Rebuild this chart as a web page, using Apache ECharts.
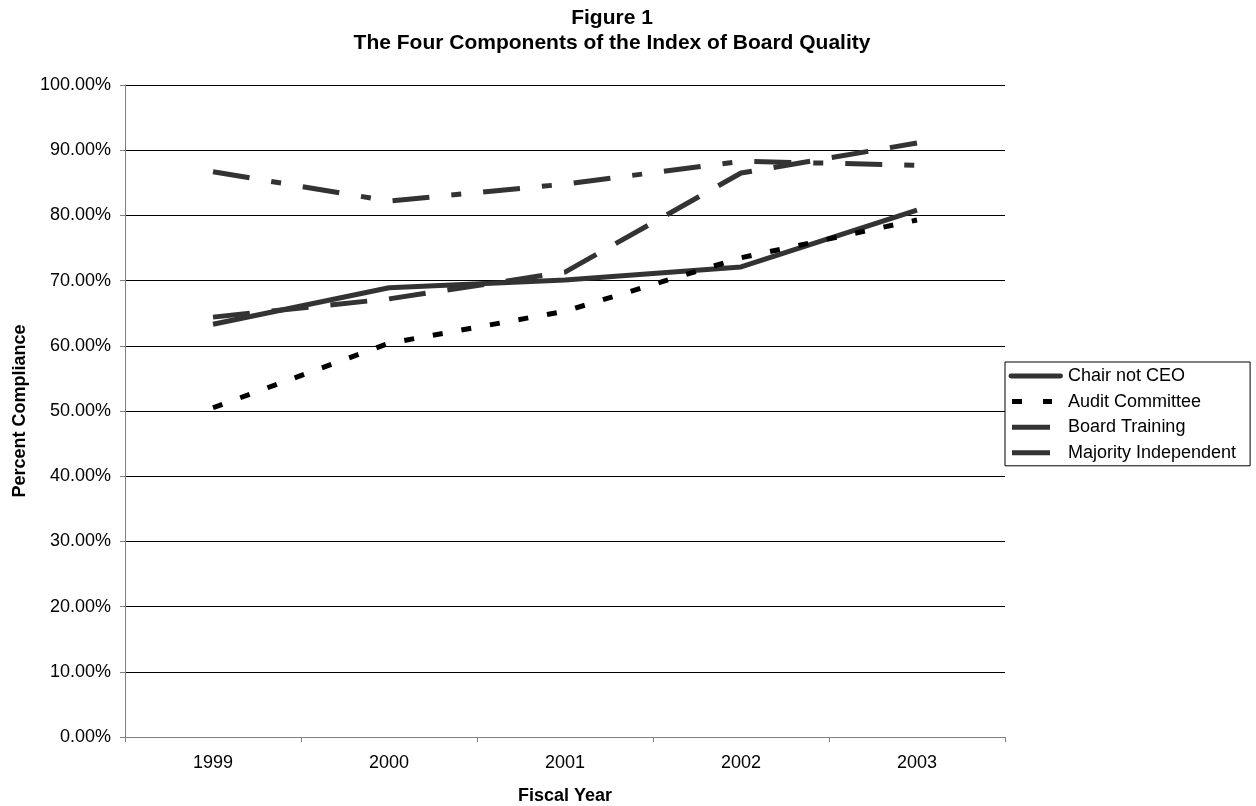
<!DOCTYPE html>
<html><head><meta charset="utf-8">
<script src="https://cdn.jsdelivr.net/npm/echarts@6/dist/echarts.min.js"></script>
<style>html,body{margin:0;padding:0;background:#fff}#c{width:1256px;height:806px}</style>
</head><body><div id="c"></div>
<script>
const years = ['1999', '2000', '2001', '2002', '2003'];
const chairNotCEO = [0.633, 0.689, 0.701, 0.721, 0.808];
const auditCommittee = [0.505, 0.604, 0.653, 0.735, 0.793];
const boardTraining = [0.644, 0.672, 0.713, 0.865, 0.911];
const majorityIndependent = [0.867, 0.822, 0.848, 0.883, 0.877];
const seriesNames = ['Chair not CEO', 'Audit Committee', 'Board Training', 'Majority Independent'];

const font = 'Liberation Sans, Arial, sans-serif';
const chart = echarts.init(document.getElementById('c'), null, {renderer: 'canvas'});
function mk(name, data, color, type) {
  return {name, type: 'line', data, symbol: 'none', smooth: false,
    lineStyle: {color, width: 5, type, cap: 'butt'}, itemStyle: {color}};
}
const iconChair = 'path://M0,0M55,6M3,0.5h50a2.5,2.5 0 0 1 0,5h-50a2.5,2.5 0 0 1 0,-5z';
const iconAudit = 'path://M0,0M55,6M4,0.5h10v5h-10zM35,0.5h9v5h-9z';
const iconBar = 'path://M0,0M55,6M4,0.5h38v5h-38z';
chart.setOption({
  animation: false,
  title: {text: 'Figure 1\nThe Four Components of the Index of Board Quality', left: 607, top: 1, textAlign: 'center',
    textStyle: {fontFamily: font, fontWeight: 'bold', fontSize: 21, color: '#000', lineHeight: 25}},
  grid: {left: 125, right: 251, top: 85, bottom: 69, containLabel: false, outerBoundsMode: 'none'},
  legend: {orient: 'vertical', left: 1005, top: 362, itemWidth: 55, itemHeight: 6, itemGap: 7.6,
    padding: [5, 14, 4, 3], borderColor: '#000', borderWidth: 1, backgroundColor: '#fff',
    itemStyle: {borderWidth: 0},
    textStyle: {fontFamily: font, fontSize: 18, color: '#000'},
    data: [
      {name: seriesNames[0], icon: iconChair},
      {name: seriesNames[1], icon: iconAudit},
      {name: seriesNames[2], icon: iconBar},
      {name: seriesNames[3], icon: iconBar}
    ]},
  xAxis: {type: 'category', data: years, boundaryGap: true, name: 'Fiscal Year', nameLocation: 'middle', nameGap: 50,
    nameTextStyle: {fontFamily: font, fontWeight: 'bold', fontSize: 18, color: '#000'},
    axisLine: {lineStyle: {color: '#808080', width: 1}}, axisTick: {show: true, length: 5, lineStyle: {color: '#808080'}},
    axisLabel: {fontFamily: font, fontSize: 18, color: '#000', margin: 17}},
  yAxis: {type: 'value', min: 0, max: 1, interval: 0.1, name: 'Percent Compliance', nameLocation: 'middle', nameRotate: 90, nameGap: 90,
    nameTextStyle: {fontFamily: font, fontWeight: 'bold', fontSize: 18, color: '#000'},
    axisLine: {show: true, lineStyle: {color: '#808080', width: 1}}, axisTick: {show: true, length: 5, lineStyle: {color: '#808080'}},
    axisLabel: {fontFamily: font, fontSize: 18, color: '#000', margin: 14, formatter: v => (v * 100).toFixed(2) + '%'},
    splitLine: {show: true, lineStyle: {color: '#000', width: 1}}},
  series: [
    mk(seriesNames[0], chairNotCEO, '#333333', 'solid'),
    mk(seriesNames[1], auditCommittee, '#000000', [10, 19]),
    mk(seriesNames[2], boardTraining, '#333333', [37, 22]),
    mk(seriesNames[3], majorityIndependent, '#333333', [37, 22, 10, 22])
  ]
});
</script></body></html>
